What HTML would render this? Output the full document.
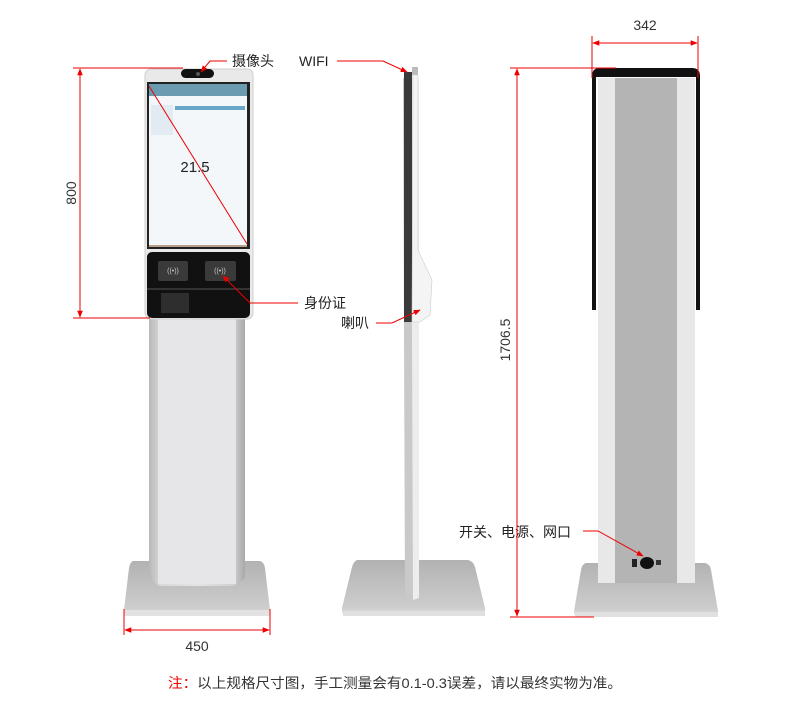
<!DOCTYPE html>
<html><head><meta charset="utf-8"><style>
html,body{margin:0;padding:0;background:#fff;}
svg{display:block;font-family:"Liberation Sans","Noto Sans CJK SC",sans-serif;}
</style></head><body>
<svg width="790" height="707" viewBox="0 0 790 707" xmlns="http://www.w3.org/2000/svg">
<defs>
<linearGradient id="pil" x1="0" x2="1"><stop offset="0" stop-color="#b8b8b8"/><stop offset="0.12" stop-color="#d8d8d8"/><stop offset="0.5" stop-color="#e4e4e6"/><stop offset="0.88" stop-color="#d0d0d0"/><stop offset="1" stop-color="#a8a8a8"/></linearGradient>
<linearGradient id="base" x1="0" y1="0" x2="0" y2="1"><stop offset="0" stop-color="#b2b2b2"/><stop offset="0.85" stop-color="#cdcdcd"/><stop offset="1" stop-color="#e0e0e0"/></linearGradient>
<marker id="ar" viewBox="0 0 10 10" refX="9" refY="5" markerWidth="7" markerHeight="7" orient="auto-start-reverse"><path d="M0,1 L10,5 L0,9 z" fill="#e00"/></marker>
</defs>

<!-- LEFT KIOSK -->
<path d="M133,561 L260,561 Q264,562 265,568 L270,610 Q270,616 264,616 L130,616 Q124,616 124,610 L129,568 Q130,562 133,561 z" fill="url(#base)"/>
<rect x="124" y="610" width="146" height="6" fill="#e2e2e2"/>
<path d="M149,318 L245,318 L245,578 L235,586 L159,586 L149,578 z" fill="url(#pil)"/>
<rect x="158" y="318" width="78" height="266" fill="#e6e6e8"/>
<rect x="145" y="69" width="108" height="250" rx="6" fill="#e9e9ea" stroke="#cfcfcf"/>
<rect x="181" y="69" width="33" height="9" rx="4.5" fill="#111"/>
<circle cx="198" cy="74" r="2" fill="#555"/>
<rect x="147" y="82" width="103" height="167" fill="#222"/>
<rect x="149" y="84" width="98" height="163" fill="#f4f7fa"/>
<rect x="149" y="84" width="98" height="12" fill="#6a9bb0"/>
<rect x="149" y="245" width="98" height="2" fill="#b9a08a"/>
<rect x="175" y="106" width="70" height="4" fill="#6aa6c8"/>
<rect x="151" y="105" width="22" height="30" fill="#e3ebf2"/>
<rect x="147" y="252" width="103" height="66" rx="5" fill="#111"/>
<rect x="147" y="288" width="103" height="2" fill="#333"/>
<rect x="158" y="261" width="30" height="20" rx="2" fill="#3a3a3a"/>
<rect x="205" y="261" width="31" height="20" rx="2" fill="#3a3a3a"/>
<text x="173" y="273" font-size="7" fill="#ccc" text-anchor="middle">((•))</text>
<text x="220" y="273" font-size="7" fill="#ccc" text-anchor="middle">((•))</text>
<rect x="161" y="293" width="28" height="20" fill="#2e2e2e"/>
<line x1="149" y1="86" x2="247" y2="244" stroke="#e00" stroke-width="1"/>
<text x="195" y="172" font-size="15" fill="#222" text-anchor="middle">21.5</text>

<!-- 800 dim -->
<line x1="73" y1="68" x2="183" y2="68" stroke="#e00"/>
<line x1="73" y1="318" x2="150" y2="318" stroke="#e00"/>
<line x1="80" y1="69" x2="80" y2="317" stroke="#e00" marker-start="url(#ar)" marker-end="url(#ar)"/>
<text x="76" y="193" font-size="14" fill="#333" text-anchor="middle" transform="rotate(-90 76 193)">800</text>
<!-- 450 dim -->
<line x1="124" y1="609" x2="124" y2="635" stroke="#e00"/>
<line x1="270" y1="609" x2="270" y2="635" stroke="#e00"/>
<line x1="125" y1="630" x2="269" y2="630" stroke="#e00" marker-start="url(#ar)" marker-end="url(#ar)"/>
<text x="197" y="651" font-size="14" fill="#333" text-anchor="middle">450</text>

<!-- labels left -->
<text x="232" y="66" font-size="14" fill="#222">摄像头</text>
<polyline points="227,61 210,61 201,72" fill="none" stroke="#e00" marker-end="url(#ar)"/>
<text x="304" y="308" font-size="14" fill="#222">身份证</text>
<polyline points="298,303 250,303 223,276" fill="none" stroke="#e00" marker-end="url(#ar)"/>

<!-- MIDDLE -->
<path d="M357,560 L468,560 Q473,561 475,567 L485,608 Q486,616 478,616 L348,616 Q341,616 342,608 L352,567 Q354,561 357,560 z" fill="url(#base)"/>
<rect x="343" y="611" width="142" height="5" fill="#e0e0e0"/>
<path d="M403,78 L411,76 L419,80 L419,598 L410,600 L405,598 z" fill="#c9c9c9"/>
<path d="M411,76 L419,80 L419,598 L413,600 z" fill="#ededed"/>
<rect x="404" y="72" width="8" height="250" fill="#3a3a3a"/>
<rect x="412" y="67" width="6" height="8" fill="#bbb"/>
<path d="M413,75 L418,75 L418,250 L432,280 L430,315 L420,322 L412,322 z" fill="#f4f4f4" stroke="#ccc" stroke-width="0.6"/>
<text x="299" y="66" font-size="14" fill="#222">WIFI</text>
<polyline points="337,61 383,61 407,72" fill="none" stroke="#e00" marker-end="url(#ar)"/>
<text x="341" y="328" font-size="14" fill="#222">喇叭</text>
<polyline points="376,323 392,323 420,310" fill="none" stroke="#e00" marker-end="url(#ar)"/>

<!-- RIGHT -->
<path d="M586,563 L705,563 Q710,564 711,570 L718,611 Q718,617 712,617 L579,617 Q574,617 574,611 L581,570 Q582,564 586,563 z" fill="url(#base)"/>
<rect x="575" y="612" width="143" height="5" fill="#e0e0e0"/>
<rect x="598" y="78" width="97" height="505" fill="#e8e8e8"/>
<rect x="615" y="78" width="62" height="505" fill="#b4b4b4"/>
<path d="M594,310 L594,76 Q594,70 600,70 L692,70 Q698,70 698,76 L698,310" fill="none" stroke="#111" stroke-width="4"/>
<rect x="596" y="70" width="100" height="7" fill="#111"/>
<rect x="635" y="68" width="22" height="4" fill="#111"/>
<rect x="632" y="559" width="5" height="8" fill="#222"/>
<ellipse cx="647" cy="563" rx="7" ry="6" fill="#111"/>
<rect x="656" y="560" width="5" height="5" fill="#333"/>
<text x="459" y="537" font-size="14" fill="#222">开关、电源、网口</text>
<polyline points="583,531 598,531 643,556" fill="none" stroke="#e00" marker-end="url(#ar)"/>
<!-- 342 -->
<line x1="592" y1="36" x2="592" y2="78" stroke="#e00"/>
<line x1="698" y1="36" x2="698" y2="78" stroke="#e00"/>
<line x1="593" y1="43" x2="697" y2="43" stroke="#e00" marker-start="url(#ar)" marker-end="url(#ar)"/>
<text x="645" y="30" font-size="14" fill="#333" text-anchor="middle">342</text>
<!-- 1706.5 -->
<line x1="510" y1="68" x2="616" y2="68" stroke="#e00"/>
<line x1="510" y1="617" x2="594" y2="617" stroke="#e00"/>
<line x1="517" y1="69" x2="517" y2="616" stroke="#e00" marker-start="url(#ar)" marker-end="url(#ar)"/>
<rect x="495" y="305" width="20" height="66" fill="#fff"/>
<text x="510" y="340" font-size="14" fill="#333" text-anchor="middle" transform="rotate(-90 510 340)">1706.5</text>

<!-- note -->
<text x="168" y="688" font-size="14" fill="#333" textLength="454" lengthAdjust="spacingAndGlyphs"><tspan fill="#e00">注：</tspan>以上规格尺寸图，手工测量会有0.1-0.3误差，请以最终实物为准。</text>
</svg>
</body></html>
